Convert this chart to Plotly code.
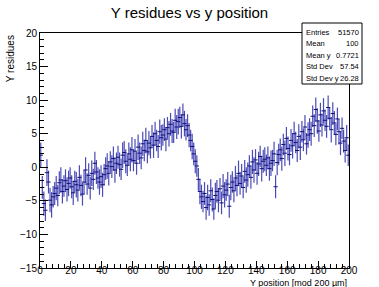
import plotly.graph_objects as go

# bin centres: Y position [mod 200 um], 200 bins of width 1
bin_lo = 0
bin_hi = 200
n_bins = 200

y_vals = [
    1.8, -3.0, -5.4, -6.4, -0.8, -2.2, -4.9, -5.6, -4.4, -3.9,
    -3.1, -4.2, -2.3, -1.9, -3.6, -2.8, -2.0, -3.3, -2.4, -1.6,
    -2.9, -3.8, -2.1, -2.6, -3.4, -1.5, -2.7, -4.0, -2.2, -0.4,
    -2.5, -1.2, -3.1, -0.9, -1.8, 0.6, -0.7, -1.6, -2.2, -1.4,
    -2.6, -1.1, -0.2, 0.2, -0.9, 0.8, 0.1, 1.3, -0.4, 0.6,
    1.5, 0.4, -0.3, 1.8, 2.2, 0.9, 0.3, 2.0, 1.2, 2.6,
    1.0, 2.4, 0.6, 3.0, 2.1, 1.4, 3.5, 2.5, 4.0, 2.3,
    3.6, 2.9, 4.6, 3.3, 5.0, 4.0, 3.1, 5.3, 4.4, 4.8,
    5.6, 4.2, 5.9, 5.0, 6.4, 5.4, 5.2, 7.0, 6.0, 6.8,
    7.4, 6.1, 7.8, 6.5, 5.6, 6.2, 4.8, 4.0, 3.1, 2.0,
    0.9, 0.2, -1.8, -3.6, -4.4, -5.1, -3.9, -6.0, -4.5, -5.6,
    -3.5, -4.8, -6.2, -4.2, -3.6, -4.9, -3.2, -5.3, -2.8, -4.1,
    -3.4, -2.5, -5.8, -3.0, -2.2, -3.5, -1.6, -2.7, -0.9, -2.4,
    -1.3, -3.0, -0.6, -1.9, -1.1, 0.2, -1.5, 0.8, -0.4, 1.1,
    -0.9, 0.5, 1.6, -0.2, 0.9, 1.2, 0.3, 1.4, -0.2, 0.6,
    1.0, 2.0, -2.9, 0.7, 1.9, 2.6, 1.3, 3.4, 2.1, 4.3,
    2.8, 1.9, 4.0, 3.2, 5.0, 3.7, 2.5, 4.6, 3.0, 5.3,
    4.1, 6.0, 3.5, 4.8, 5.6, 5.0, 7.6, 6.2, 8.6, 6.9,
    5.4, 7.8, 6.3, 8.4, 7.0, 6.1, 8.9, 7.3, 5.6, 8.0,
    6.6, 4.9, 7.2, 5.3, 3.6, 5.8, 3.9, 2.5, 4.4, 1.8,
]

y_errs = [
    1.9, 1.7, 1.8, 1.6, 2.0, 1.7, 1.8, 1.9, 1.6, 1.7,
    1.8, 1.6, 1.7, 1.9, 1.8, 1.6, 1.7, 1.8, 1.9, 1.6,
    1.7, 1.8, 1.6, 1.9, 1.7, 1.8, 1.6, 1.7, 1.8, 1.9,
    1.6, 1.8, 1.7, 1.9, 1.6, 1.7, 1.8, 1.6, 1.9, 1.7,
    1.8, 1.6, 1.7, 1.9, 1.8, 1.6, 1.7, 1.8, 1.9, 1.6,
    1.7, 1.8, 1.6, 1.9, 1.7, 1.8, 1.6, 1.7, 1.8, 1.9,
    1.6, 1.8, 1.7, 1.9, 1.6, 1.7, 1.8, 1.6, 1.9, 1.7,
    1.8, 1.6, 1.7, 1.9, 1.8, 1.6, 1.7, 1.8, 1.9, 1.6,
    1.7, 1.8, 1.6, 1.9, 1.7, 1.8, 1.6, 1.7, 1.8, 1.9,
    1.6, 1.8, 1.7, 1.9, 1.6, 1.7, 1.8, 1.6, 1.9, 1.7,
    1.8, 1.6, 1.7, 1.9, 1.8, 1.6, 1.7, 1.8, 1.9, 1.6,
    1.7, 1.8, 1.6, 1.9, 1.7, 1.8, 1.6, 1.7, 1.8, 1.9,
    1.6, 1.8, 1.7, 1.9, 1.6, 1.7, 1.8, 1.6, 1.9, 1.7,
    1.8, 1.6, 1.7, 1.9, 1.8, 1.6, 1.7, 1.8, 1.9, 1.6,
    1.7, 1.8, 1.6, 1.9, 1.7, 1.8, 1.6, 1.7, 1.8, 1.9,
    1.6, 1.8, 1.7, 1.9, 1.6, 1.7, 1.8, 1.6, 1.9, 1.7,
    1.8, 1.6, 1.7, 1.9, 1.8, 1.6, 1.7, 1.8, 1.9, 1.6,
    1.7, 1.8, 1.6, 1.9, 1.7, 1.8, 1.6, 1.7, 1.8, 1.9,
    1.6, 1.8, 1.7, 1.9, 1.6, 1.7, 1.8, 1.6, 1.9, 1.7,
    1.8, 1.6, 1.7, 1.9, 1.8, 1.6, 1.7, 1.8, 1.9, 1.6,
]

stat_labels = ["Entries", "Mean", "Mean y", "Std Dev", "Std Dev y"]
stat_values = ["51570", "100", "0.7721", "57.54", "26.28"]

title_text = "Y residues vs y position"
x_title = "Y position [mod 200 µm]"
y_title = "Y residues"

width_bin = (bin_hi - bin_lo) / n_bins
x_vals = [bin_lo + (i + 0.5) * width_bin for i in range(n_bins)]

FONT = "Liberation Sans, Arial, Helvetica, sans-serif"
fig = go.Figure()
fig.add_trace(go.Scatter(
    x=x_vals, y=y_vals, mode="markers",
    marker=dict(symbol="line-ew", size=3, color="rgb(15,15,120)",
                line=dict(width=1, color="rgb(15,15,120)")),
    error_y=dict(type="data", array=y_errs, visible=True, thickness=1.2,
                 width=0, color="rgba(30,30,165,0.8)"),
    showlegend=False,
))

fig.update_layout(
    width=379, height=287,
    margin=dict(l=40, r=30, t=33, b=19),
    paper_bgcolor="white", plot_bgcolor="white",
    font=dict(family=FONT, color="black", size=10),
    title=dict(text=title_text, x=0.5, xanchor="center", y=0.955, yanchor="middle",
               font=dict(size=15, family=FONT)),
)
fig.update_xaxes(
    range=[0, 200], dtick=20, tick0=0, ticks="inside", ticklen=7, tickwidth=1,
    tickcolor="black", showline=True, linecolor="black", linewidth=1, mirror=True,
    showgrid=False, zeroline=False, tickfont=dict(size=10), automargin=False,
    ticklabelstandoff=-7,
    minor=dict(ticks="inside", ticklen=4, dtick=4, tickcolor="black", showgrid=False),
)
fig.update_yaxes(
    range=[-15, 20], dtick=5, tick0=0, ticks="inside", ticklen=8, tickwidth=1,
    tickcolor="black", showline=True, linecolor="black", linewidth=1, mirror=True,
    showgrid=False, zeroline=False, tickfont=dict(size=10), automargin=False,
    minor=dict(ticks="inside", ticklen=4, dtick=1, tickcolor="black", showgrid=False),
)

ann = []
ann.append(dict(text=y_title, textangle=-90, xref="paper", yref="paper",
                x=-0.095, y=1.0, xanchor="center", yanchor="top", showarrow=False,
                font=dict(size=10, family=FONT)))
ann.append(dict(text=x_title, xref="paper", yref="paper", x=1.0, y=(268 - 282.5) / 235,
                xanchor="right", yanchor="middle", showarrow=False,
                font=dict(size=9, family=FONT)))

# stats box
bx0, bx1 = (302 - 40) / 309, (362 - 40) / 309
by1, by0 = (268 - 23) / 235, (268 - 84) / 235
fig.add_shape(type="rect", xref="paper", yref="paper", x0=bx0, x1=bx1, y0=by0, y1=by1,
              line=dict(color="black", width=1), fillcolor="white", layer="above")
row_px = [32, 43.5, 55, 66.5, 78]
for lab, val, py in zip(stat_labels, stat_values, row_px):
    yy = (268 - py) / 235
    ann.append(dict(text=lab, xref="paper", yref="paper", x=(304 - 40) / 309, y=yy,
                    xanchor="left", yanchor="middle", showarrow=False,
                    font=dict(size=7.5, family=FONT)))
    ann.append(dict(text=val, xref="paper", yref="paper", x=(361 - 40) / 309, y=yy,
                    xanchor="right", yanchor="middle", showarrow=False,
                    font=dict(size=7.5, family=FONT)))
fig.update_layout(annotations=ann)

fig.write_html("out.html", config={"displayModeBar": False},
               post_script="document.body.style.margin='0px';")
